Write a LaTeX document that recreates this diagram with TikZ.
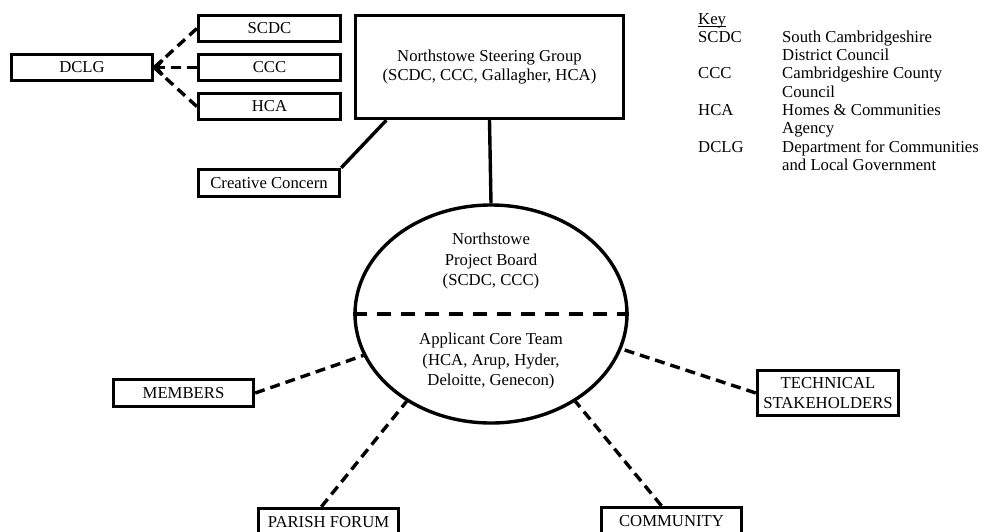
\documentclass[tikz,border=0pt]{standalone}
\usepackage{fontspec}
\setmainfont{Liberation Serif}
\usetikzlibrary{shapes.geometric,arrows.meta,calc}
\tikzset{
  box/.style={draw, line width=3.4pt, rectangle, inner sep=0pt, align=center,
    minimum width=141pt, minimum height=26pt, font=\fontsize{16.7}{18.3}\selectfont},
  link/.style={line width=3.4pt, dash pattern=on 10pt off 6pt},
  solidlink/.style={line width=3.4pt},
  divider/.style={line width=3.4pt, dash pattern=on 14pt off 10pt},
  keytxt/.style={anchor=base west, inner sep=0pt, font=\fontsize{16.7}{18.3}\selectfont},
  elltxt/.style={align=center, inner sep=0pt, font=\fontsize{16.7}{20.7}\selectfont}
}
\begin{document}
\begin{tikzpicture}[x=1pt,y=-1pt]
\clip (0,0) rectangle (984,531);
\fill[white] (0,0) rectangle (984,531);

% top-left group
\node[box] (dclg) at (82,67.5) {DCLG};
\node[box, minimum width=142pt] (scdc) at (269.5,28.5) {SCDC};
\node[box, minimum width=142pt] (ccc) at (269.5,67.5) {CCC};
\node[box, minimum width=142pt] (hca) at (269.5,106.5) {HCA};
\node[box, minimum width=268pt, minimum height=103pt] (sg) at (489.5,67) {Northstowe Steering Group\\(SCDC, CCC, Gallagher, HCA)};
\node[box, minimum height=27pt] (cc) at (269,183) {Creative Concern};

\draw[link] (scdc.west) -- (dclg.east);
\draw[link] (hca.west) -- (dclg.east);
\draw[link, -{Straight Barb[length=6pt,width=15pt]}] (ccc.west) -- (dclg.east);
\draw[solidlink] (cc.north east) -- ($(sg.south west)!0.12!(sg.south east)$);

% central ellipse
\node[draw, ellipse, line width=3.4pt, minimum width=272pt, minimum height=218pt, inner sep=0pt] (pb) at (491,314) {};
\draw[divider] (pb.west) -- (pb.east);
\node[elltxt] (pbtext) at (491,261) {Northstowe\\Project Board\\(SCDC, CCC)};
\node[elltxt] (act) at (491,361) {Applicant Core Team\\(HCA, Arup, Hyder,\\Deloitte, Genecon)};
\draw[solidlink] (sg.south) -- (pb.north);

% stakeholders
\node[box, minimum width=140pt, minimum height=27pt] (mem) at (183.5,393) {MEMBERS};
\node[box, minimum height=45pt, font=\fontsize{16.7}{20}\selectfont] (tech) at (828,393) {TECHNICAL\\STAKEHOLDERS};
\node[box, minimum width=140pt, minimum height=27pt] (pf) at (328.5,522) {PARISH FORUM};
\node[box, minimum width=140pt, minimum height=27pt] (com) at (671.5,521) {COMMUNITY};

\draw[link] (mem.east) -- (pb.198);
\draw[link] (tech.west) -- (pb.345);
\draw[link] ($(pf.north west)!0.45!(pf.north east)$) -- (pb.226);
\draw[link] ($(com.north west)!0.43!(com.north east)$) -- (pb.314);

% key
\node[keytxt] (k0) at (698,24) {Key};
\draw[line width=0.9pt] ($(k0.base west)+(0,2.2)$) -- ($(k0.base east)+(0,2.2)$);
\node[keytxt] (k1) at (698,42.3) {SCDC};
\node[keytxt] (k1a) at (782,42.3) {South Cambridgeshire};
\node[keytxt] (k1b) at (782,60.6) {District Council};
\node[keytxt] (k2) at (698,78.9) {CCC};
\node[keytxt] (k2a) at (782,78.9) {Cambridgeshire County};
\node[keytxt] (k2b) at (782,97.2) {Council};
\node[keytxt] (k3) at (698,115.5) {HCA};
\node[keytxt] (k3a) at (782,115.5) {Homes \& Communities};
\node[keytxt] (k3b) at (782,133.8) {Agency};
\node[keytxt] (k4) at (698,152.1) {DCLG};
\node[keytxt] (k4a) at (782,152.1) {Department for Communities};
\node[keytxt] (k4b) at (782,170.4) {and Local Government};
\end{tikzpicture}
\end{document}
